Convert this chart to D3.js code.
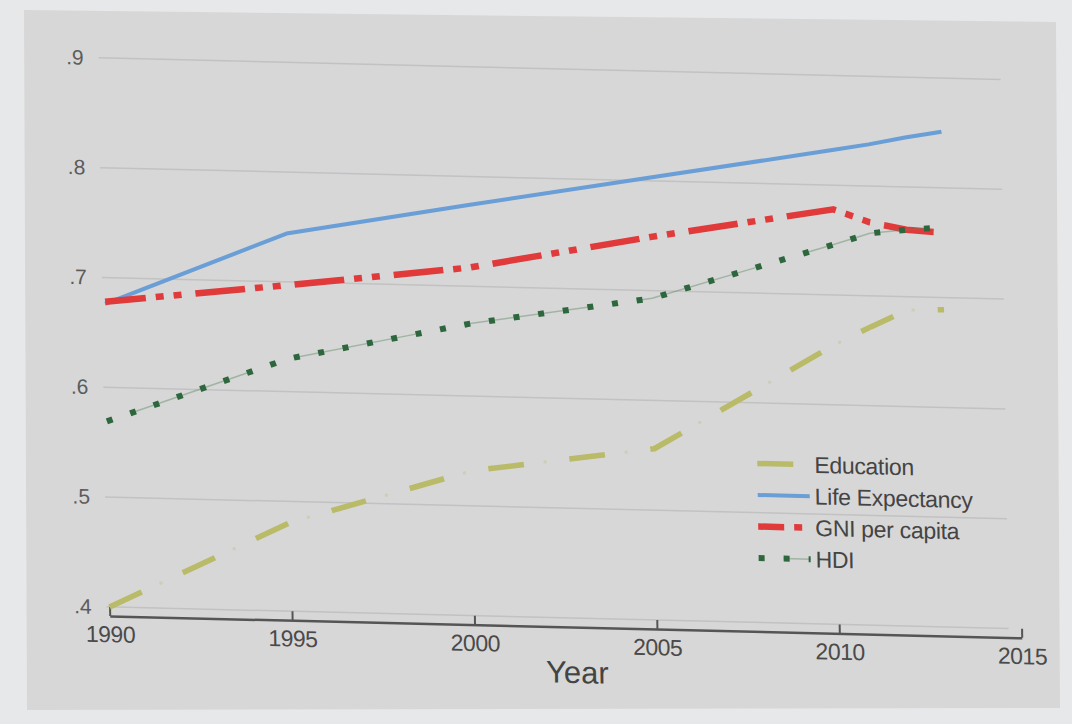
<!DOCTYPE html>
<html>
<head>
<meta charset="utf-8">
<script src="https://cdn.jsdelivr.net/npm/d3@7"></script>
<style>
  body { margin: 0; background: #e7e8ea; }
  svg { display: block; font-family: "Liberation Sans", Arial, sans-serif; }
</style>
</head>
<body>
<svg id="chart" width="1072" height="724"></svg>
<script>
"use strict";

// data
const years = [1990, 1995, 2000, 2005, 2010, 2011, 2012, 2013];
const education      = [0.400, 0.481, 0.532, 0.556, 0.655, 0.672, 0.688, 0.689];
const lifeExpectancy = [0.676, 0.744, 0.774, 0.803, 0.832, 0.838, 0.845, 0.851];
const gniPerCapita   = [0.678, 0.697, 0.717, 0.749, 0.778, 0.767, 0.761, 0.759];
const hdi            = [0.569, 0.630, 0.666, 0.693, 0.746, 0.757, 0.761, 0.764];

const yTicks = [0.4, 0.5, 0.6, 0.7, 0.8, 0.9];
const xTicks = [1990, 1995, 2000, 2005, 2010, 2015];
const seriesNames = ["Education", "Life Expectancy", "GNI per capita", "HDI"];
const seriesValues = [education, lifeExpectancy, gniPerCapita, hdi];

const svg = d3.select("#chart");

// the grey panel of the photographed page
svg.append("path")
  .attr("d", "M24,10 L1056,22 L1060,708 L27,710 Z")
  .style("fill", "#d7d7d8");

// the photo is a little skewed, so the chart is drawn in a sheared group
const a = 0.0145, b = 0.024;
const g = svg.append("g")
  .attr("transform", `matrix(1,${b},${a},1,${-a * 360},${-b * 110})`);

const x = d3.scaleLinear().domain([1990, 2015]).range([106, 1018]);
const y = d3.scaleLinear().domain([0.4, 0.9]).range([607, 58]);

// gridlines
g.append("g").selectAll("line")
  .data(yTicks)
  .enter()
  .append("line")
  .attr("x1", 103)
  .attr("x2", 1005)
  .attr("y1", d => y(d))
  .attr("y2", d => y(d))
  .style("stroke", "#c2c2c3")
  .style("stroke-width", 1.5);

// y labels (.4 ... .9)
const yAxis = g.append("g")
  .attr("transform", "translate(88,0)")
  .call(d3.axisLeft(y).tickValues(yTicks).tickSize(0).tickPadding(0)
    .tickFormat(d => d3.format(".1f")(d).replace(/^0/, "")));
yAxis.select(".domain").remove();
yAxis.selectAll("text")
  .attr("font-size", 21)
  .attr("fill", "#5c5c5c");

// x axis, ticks pointing up
const axisY = y(0.4) + 9;
const xAxis = g.append("g")
  .attr("transform", `translate(0,${axisY})`)
  .call(d3.axisBottom(x).tickValues(xTicks).tickFormat(d3.format("d"))
    .tickSizeInner(-9).tickSizeOuter(0).tickPadding(10));
xAxis.select(".domain").style("stroke", "#555").style("stroke-width", 2.5);
xAxis.selectAll(".tick line").style("stroke", "#555").style("stroke-width", 2);
xAxis.selectAll("text")
  .attr("font-size", 23)
  .attr("letter-spacing", -0.5)
  .attr("fill", "#4a4a4a");

g.append("text")
  .attr("x", 573)
  .attr("y", 672)
  .attr("text-anchor", "middle")
  .attr("font-size", 31)
  .attr("fill", "#444")
  .text("Year");

// line styles per series
const styles = [
  [{ stroke: "#b9bb68", width: 5.5, dash: "36,46", offset: 0 },
   { stroke: "#b9bb68", width: 3, dash: "0,56,3,23", offset: 0, opacity: 0.3 }],
  [{ stroke: "#6a9ed6", width: 4, dash: null, offset: 0 }],
  [{ stroke: "#e03a3a", width: 6.5, dash: "50,10,8,10,8,14", offset: 9 }],
  [{ stroke: "#5f8a66", width: 1.5, dash: "125,50", offset: 150, opacity: 0.45 },
   { stroke: "#2e673d", width: 6, dash: "6,19", offset: 0 }]
];

const line = d3.line()
  .x(d => x(d.year))
  .y(d => y(d.value));

function applyStyle(sel, s) {
  sel.style("fill", "none")
    .style("stroke", s.stroke)
    .style("stroke-width", s.width)
    .style("stroke-opacity", s.opacity || 1)
    .style("stroke-linejoin", "round")
    .attr("stroke-dasharray", s.dash)
    .attr("stroke-dashoffset", s.offset);
}

seriesValues.forEach((vals, i) => {
  const pts = years.map((yr, j) => ({ year: yr, value: vals[j] }));
  styles[i].forEach(s => {
    g.append("path")
      .datum(pts)
      .attr("d", line)
      .call(applyStyle, s);
  });
});

// legend
const legend = g.append("g")
  .selectAll("g")
  .data(seriesNames)
  .enter()
  .append("g")
  .attr("transform", (d, i) => `translate(756,${448 + i * 31.5})`);

const legendOffsets = [0, 0, 15, 0];
legend.each(function (d, i) {
  const item = d3.select(this);
  styles[i].forEach(s => {
    item.append("line")
      .attr("x1", 0)
      .attr("x2", 52)
      .call(applyStyle, Object.assign({}, s, { offset: s.offset + legendOffsets[i] }));
  });
  item.append("text")
    .attr("x", 57)
    .attr("dy", "0.35em")
    .attr("font-size", 23)
    .attr("letter-spacing", -0.3)
    .attr("fill", "#444")
    .text(d);
});
</script>
</body>
</html>
